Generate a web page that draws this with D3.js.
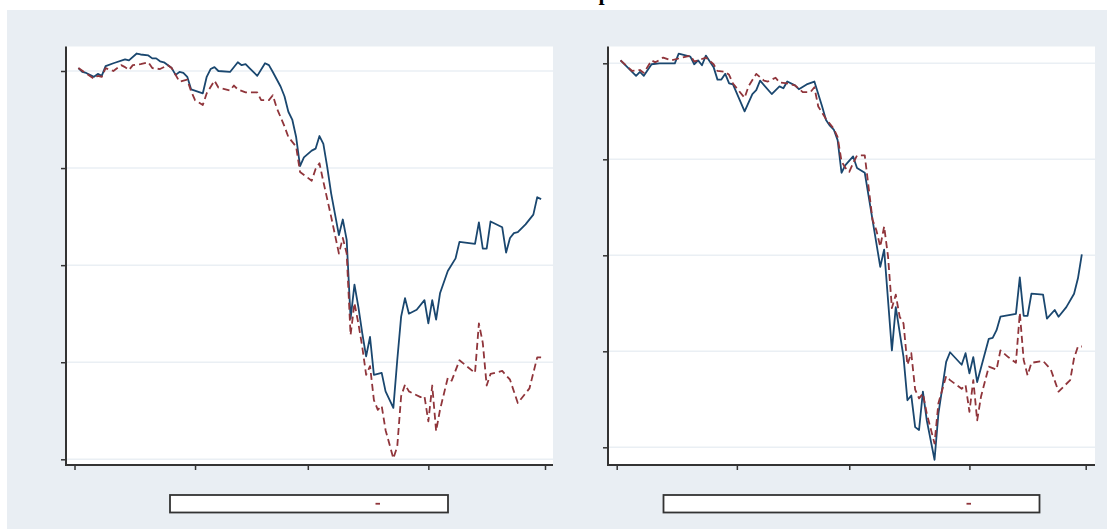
<!DOCTYPE html>
<html>
<head>
<meta charset="utf-8">
<script src="https://cdn.jsdelivr.net/npm/d3@7"></script>
<style>
  body { margin: 0; background: #fff; }
  svg { display: block; }
</style>
</head>
<body>
<svg id="chart" width="1114" height="529"></svg>
<script>
// x = days since 1 Jan 2020 (Jan 1 = 0), y = index level
const monthTicks = [0, 31, 60, 91, 121]; // Jan 1, Feb 1, Mar 1, Apr 1, May 1
const levelTicks = [0.6, 0.7, 0.8, 0.9, 1.0];
const titleText = "p";

// left panel
const leftSolidDays = [1, 2, 3, 5, 6, 7, 8, 10, 13, 14, 16, 17, 19, 20, 21, 22, 23, 25, 26, 27,
  28, 29, 30, 33, 34, 35, 36, 37, 40, 42, 43, 44, 45, 47, 49, 50, 51, 53, 54, 55,
  56, 57, 58, 59, 61, 62, 63, 64, 65, 66, 68, 69, 70, 71, 72, 73, 74, 75, 76, 77,
  79, 80, 82, 83, 84, 85, 86, 88, 90, 91, 92, 93, 94, 96, 98, 99, 103, 104, 105, 106,
  107, 110, 111, 112, 113, 114, 116, 118, 119, 120];
const leftSolidValues = [1.003, 0.999, 0.998, 0.994, 0.997, 0.995, 1.005, 1.008, 1.012, 1.011,
  1.018, 1.017, 1.016, 1.013, 1.013, 1.010, 1.009, 1.003, 0.996, 0.999,
  0.998, 0.994, 0.981, 0.977, 0.994, 1.002, 1.004, 1.000, 0.999, 1.009,
  1.006, 1.007, 1.003, 0.995, 1.008, 1.006, 0.999, 0.984, 0.974, 0.958,
  0.950, 0.932, 0.902, 0.911, 0.918, 0.920, 0.933, 0.925, 0.901, 0.874,
  0.831, 0.847, 0.826, 0.745, 0.780, 0.757, 0.730, 0.706, 0.726, 0.687,
  0.689, 0.670, 0.653, 0.702, 0.747, 0.766, 0.750, 0.754, 0.764, 0.740,
  0.764, 0.744, 0.771, 0.794, 0.807, 0.824, 0.822, 0.844, 0.817, 0.817,
  0.845, 0.839, 0.813, 0.828, 0.833, 0.834, 0.842, 0.852, 0.870, 0.868];

const leftDashDays = [1, 5, 6, 7, 8, 10, 12, 13, 14, 15, 17, 19, 20, 22, 24, 25, 27, 29, 30, 31,
  33, 34, 36, 37, 40, 41, 42, 44, 47, 48, 50, 51, 52, 54, 55, 57, 58, 61, 62, 63,
  64, 66, 68, 69, 70, 71, 72, 73, 74, 75, 76, 77, 78, 79, 80, 82, 83, 84, 85, 86,
  89, 90, 91, 92, 93, 94, 96, 97, 99, 103, 104, 105, 106, 107, 110, 112, 114, 117, 119, 120];
const leftDashValues = [1.003, 0.992, 0.995, 0.994, 1.003, 1.000, 1.006, 1.004, 1.001, 1.006,
  1.007, 1.009, 1.003, 1.002, 1.006, 1.003, 0.989, 0.991, 0.979, 0.970,
  0.965, 0.977, 0.990, 0.983, 0.980, 0.985, 0.981, 0.978, 0.978, 0.970,
  0.970, 0.975, 0.962, 0.943, 0.932, 0.922, 0.896, 0.887, 0.899, 0.905,
  0.886, 0.850, 0.812, 0.828, 0.812, 0.728, 0.761, 0.740, 0.716, 0.687,
  0.696, 0.661, 0.651, 0.655, 0.630, 0.601, 0.613, 0.665, 0.677, 0.670,
  0.664, 0.665, 0.639, 0.676, 0.629, 0.651, 0.684, 0.681, 0.702, 0.689,
  0.740, 0.720, 0.676, 0.688, 0.691, 0.682, 0.658, 0.673, 0.705, 0.705];

// right panel
const rightSolidDays = [1, 3, 5, 6, 7, 9, 11, 15, 16, 19, 20, 21, 22, 23, 25, 26, 27, 28, 29, 30,
  33, 35, 36, 37, 40, 42, 43, 44, 46, 47, 49, 51, 53, 54, 55, 56, 57, 58, 59, 61,
  62, 64, 66, 68, 69, 71, 72, 74, 75, 76, 77, 78, 79, 80, 82, 83, 85, 86, 89, 90,
  91, 92, 93, 96, 97, 98, 99, 103, 104, 105, 106, 107, 110, 111, 113, 114, 116, 118, 119, 120];
const rightSolidValues = [1.003, 0.995, 0.987, 0.991, 0.987, 0.999, 1.000, 1.000, 1.010, 1.007,
  0.999, 1.003, 0.998, 1.008, 0.996, 0.983, 0.983, 0.989, 0.979, 0.978,
  0.950, 0.968, 0.972, 0.982, 0.968, 0.976, 0.974, 0.981, 0.977, 0.973,
  0.978, 0.981, 0.955, 0.941, 0.935, 0.931, 0.920, 0.886, 0.894, 0.903,
  0.891, 0.886, 0.837, 0.788, 0.806, 0.701, 0.746, 0.694, 0.649, 0.654,
  0.621, 0.618, 0.658, 0.628, 0.587, 0.635, 0.689, 0.699, 0.686, 0.698,
  0.677, 0.694, 0.668, 0.713, 0.714, 0.722, 0.736, 0.739, 0.777, 0.737,
  0.737, 0.760, 0.759, 0.734, 0.743, 0.736, 0.746, 0.760, 0.776, 0.801];

const rightDashDays = [1, 4, 6, 7, 9, 10, 12, 14, 16, 19, 20, 21, 23, 25, 26, 28, 29, 30, 33, 34,
  36, 38, 39, 41, 42, 44, 46, 48, 50, 51, 52, 54, 56, 57, 58, 59, 60, 61, 62, 64,
  66, 67, 68, 69, 70, 71, 72, 73, 74, 75, 76, 77, 78, 79, 80, 82, 83, 85, 86, 89,
  90, 91, 92, 93, 94, 96, 98, 99, 101, 103, 104, 105, 106, 107, 110, 112, 114, 117, 118, 119, 120];
const rightDashValues = [1.003, 0.992, 0.993, 0.990, 1.003, 1.001, 1.006, 1.003, 1.005, 1.008,
  1.002, 1.003, 1.006, 0.999, 0.992, 0.991, 0.988, 0.979, 0.964, 0.976,
  0.989, 0.982, 0.981, 0.985, 0.980, 0.979, 0.977, 0.970, 0.970, 0.975,
  0.955, 0.942, 0.932, 0.923, 0.898, 0.891, 0.887, 0.896, 0.904, 0.904,
  0.837, 0.826, 0.809, 0.830, 0.799, 0.745, 0.759, 0.736, 0.729, 0.686,
  0.698, 0.660, 0.651, 0.656, 0.635, 0.604, 0.646, 0.674, 0.670, 0.661,
  0.665, 0.637, 0.670, 0.628, 0.653, 0.684, 0.681, 0.701, 0.694, 0.688,
  0.740, 0.691, 0.675, 0.688, 0.690, 0.681, 0.658, 0.670, 0.693, 0.705, 0.705];

const SOLID = "#1a476f";
const DASH = "#90353b";

class Panel {
  constructor(svg, box, xRange, yRange) {
    this.svg = svg;
    this.box = box;
    this.x = d3.scaleLinear().domain([monthTicks[0], monthTicks[4]]).range(xRange);
    this.y = d3.scaleLinear().domain([levelTicks[0], levelTicks[4]]).range(yRange);
  }

  draw(solidDays, solidValues, dashDays, dashValues) {
    const b = this.box;
    const g = this.svg.append("g");

    g.append("rect")
      .attr("x", b.x0).attr("y", b.y0)
      .attr("width", b.x1 - b.x0).attr("height", b.y1 - b.y0)
      .attr("fill", "#fff");

    // gridlines
    g.selectAll("line.grid")
      .data(levelTicks)
      .join("line")
      .attr("class", "grid")
      .attr("x1", b.x0).attr("x2", b.x1)
      .attr("y1", (d) => this.y(d)).attr("y2", (d) => this.y(d))
      .attr("stroke", "#eaeff4")
      .attr("stroke-width", 1.5);

    const line = (days, vals) =>
      d3.line()
        .x((d, i) => this.x(days[i]))
        .y((d) => this.y(d))(vals);

    g.append("path")
      .attr("d", line(solidDays, solidValues))
      .attr("fill", "none")
      .attr("stroke", SOLID)
      .attr("stroke-width", 1.8)
      .attr("stroke-linejoin", "round");

    g.append("path")
      .attr("d", line(dashDays, dashValues))
      .attr("fill", "none")
      .attr("stroke", DASH)
      .attr("stroke-width", 1.8)
      .attr("stroke-dasharray", "7,4")
      .attr("stroke-linejoin", "round");

    // axes
    const yAxis = g.append("g")
      .attr("transform", `translate(${b.x0},0)`)
      .call(d3.axisLeft(this.y).tickValues(levelTicks).tickSize(5).tickFormat(() => ""));
    const xAxis = g.append("g")
      .attr("transform", `translate(0,${b.y1})`)
      .call(d3.axisBottom(this.x).tickValues(monthTicks).tickSize(5).tickFormat(() => ""));
    [yAxis, xAxis].forEach((a) => {
      a.select(".domain").remove();
      a.selectAll(".tick line").attr("stroke", "#333").attr("stroke-width", 1.5);
    });

    g.append("line")
      .attr("x1", b.x0).attr("x2", b.x0)
      .attr("y1", b.y0).attr("y2", b.y1 + 1)
      .attr("stroke", "#333").attr("stroke-width", 2);
    g.append("line")
      .attr("x1", b.x0 - 1).attr("x2", b.x1)
      .attr("y1", b.y1).attr("y2", b.y1)
      .attr("stroke", "#333").attr("stroke-width", 2);
  }

  legend(lg) {
    const g = this.svg.append("g");
    g.append("rect")
      .attr("x", lg.x).attr("y", lg.y)
      .attr("width", lg.w).attr("height", lg.h)
      .attr("fill", "#fff")
      .attr("stroke", "#333")
      .attr("stroke-width", 1.8);
    g.append("line")
      .attr("x1", lg.key).attr("x2", lg.key + 4.5)
      .attr("y1", lg.y + lg.h / 2).attr("y2", lg.y + lg.h / 2)
      .attr("stroke", DASH)
      .attr("stroke-width", 1.8);
  }
}

const svg = d3.select("#chart");

svg.append("rect")
  .attr("x", 7).attr("y", 10)
  .attr("width", 1100).attr("height", 519)
  .attr("fill", "#e9eef3");

// title: only the bottom of its glyph is inside the picture
svg.append("text")
  .attr("x", 598.5)
  .attr("y", 0)
  .attr("font-family", "Liberation Serif, serif")
  .attr("font-weight", "bold")
  .attr("font-size", 22)
  .attr("fill", "#000")
  .text(titleText);

const left = new Panel(svg, { x0: 66, x1: 553, y0: 46.5, y1: 465 }, [74.5, 545], [459.3, 71]);
left.draw(leftSolidDays, leftSolidValues, leftDashDays, leftDashValues);
left.legend({ x: 170, y: 495, w: 278, h: 17.5, key: 375.5 });

const right = new Panel(svg, { x0: 608, x1: 1095, y0: 46.5, y1: 465 }, [616.7, 1085.7], [447.3, 63.3]);
right.draw(rightSolidDays, rightSolidValues, rightDashDays, rightDashValues);
right.legend({ x: 663.5, y: 495, w: 376, h: 17.5, key: 966.5 });
</script>
</body>
</html>
